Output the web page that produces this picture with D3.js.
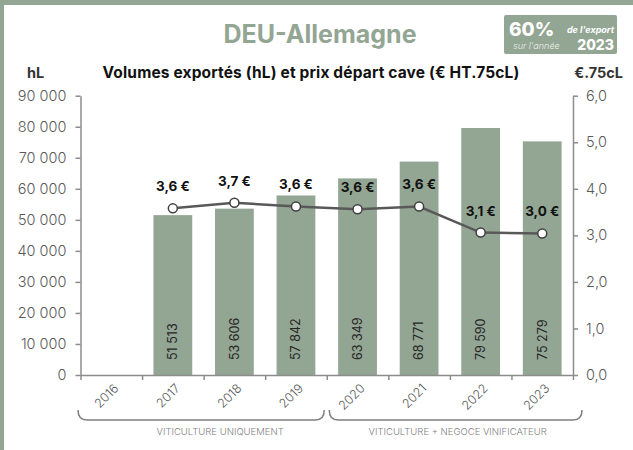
<!DOCTYPE html>
<html>
<head>
<meta charset="utf-8">
<script src="https://cdn.jsdelivr.net/npm/d3@7"></script>
<style>
  body { margin: 0; background: #fff; }
  svg text { font-family: Inter, "Noto Sans", sans-serif; }
</style>
</head>
<body>
<div id="chart"></div>
<script>
/* data */
const years = ["2016", "2017", "2018", "2019", "2020", "2021", "2022", "2023"];
const volumes = [null, 51513, 53606, 57842, 63349, 68771, 79590, 75279];
const prices = [null, 3.58, 3.70, 3.62, 3.56, 3.62, 3.06, 3.04];
const volTicks = [0, 10000, 20000, 30000, 40000, 50000, 60000, 70000, 80000, 90000];
const priceTicks = [0, 1, 2, 3, 4, 5, 6];
const groups = [
  {label: "VITICULTURE UNIQUEMENT", from: 0, to: 4},
  {label: "VITICULTURE + NEGOCE VINIFICATEUR", from: 4, to: 8}
];

/* dimensions */
let width = 633;
let height = 450;
let margin = {top: 95.7, bottom: 75, left: 80.5, right: 60};
let green = "#93a593";

const fr = d3.formatLocale({decimal: ",", thousands: " ", grouping: [3], currency: ["", "€"]});
const fmtVol = fr.format(",.0f");
const fmtPrice = fr.format(".1f");

let svg = d3.select("#chart").append("svg")
  .attr("width", width)
  .attr("height", height);

// frame bands
svg.append("rect").attr("x", 0).attr("y", 0).attr("width", width).attr("height", 5).attr("fill", green);
svg.append("rect").attr("x", 0).attr("y", 0).attr("width", 4).attr("height", height).attr("fill", green);

let x0 = margin.left, x1 = width - margin.right;
let yBottom = height - margin.bottom;

let xScale = d3.scaleBand()
  .domain(years)
  .range([x0, x1])
  .paddingInner(0.37)
  .paddingOuter(0.185);

let xPos = d3.scaleLinear().domain([0, years.length]).range([x0, x1]);

let yVol = d3.scaleLinear().domain([0, 90000]).range([yBottom, margin.top]);
let yPrice = d3.scaleLinear().domain([0, 6]).range([yBottom, margin.top]);

// titles
svg.append("text")
  .attr("x", 320).attr("y", 43)
  .attr("text-anchor", "middle")
  .attr("font-size", 25).attr("font-weight", 700)
  .attr("fill", green)
  .text("DEU-Allemagne");

let badge = svg.append("g");
badge.append("rect").attr("x", 504).attr("y", 15).attr("width", 113).attr("height", 39).attr("rx", 2).attr("fill", green);
badge.append("text").attr("x", 509).attr("y", 36).attr("font-size", 19).attr("font-weight", 800).attr("fill", "#fff").text("60%");
badge.append("text").attr("x", 614).attr("y", 32.5).attr("text-anchor", "end").attr("font-size", 9).attr("font-weight", 700).attr("font-style", "italic").attr("fill", "#fff").text("de l'export");
badge.append("text").attr("x", 513).attr("y", 48.5).attr("font-size", 9).attr("font-weight", 300).attr("font-style", "italic").attr("fill", "#eef2ee").text("sur l'année");
badge.append("text").attr("x", 614).attr("y", 50).attr("text-anchor", "end").attr("font-size", 14).attr("font-weight", 800).attr("fill", "#fff").text("2023");

svg.append("text")
  .attr("x", 311).attr("y", 78)
  .attr("text-anchor", "middle")
  .attr("font-size", 15.5).attr("font-weight", 700)
  .attr("letter-spacing", 0.15)
  .attr("fill", "#111")
  .text("Volumes exportés (hL) et prix départ cave (€ HT.75cL)");

svg.append("text").attr("x", 27).attr("y", 78).attr("font-size", 14.5).attr("font-weight", 700).attr("fill", "#333").text("hL");
svg.append("text").attr("x", 623).attr("y", 78).attr("text-anchor", "end").attr("font-size", 14.5).attr("font-weight", 700).attr("fill", "#333").text("€.75cL");

// bars
let barData = years.map((y, i) => ({year: y, vol: volumes[i], price: prices[i]}));

svg.append("g").selectAll("rect")
  .data(barData.filter(d => d.vol != null))
  .enter()
  .append("rect")
    .attr("x", d => xScale(d.year))
    .attr("y", d => yVol(d.vol))
    .attr("width", xScale.bandwidth())
    .attr("height", d => yBottom - yVol(d.vol))
    .attr("fill", green);

svg.append("g").selectAll("text")
  .data(barData.filter(d => d.vol != null))
  .enter()
  .append("text")
    .attr("transform", d => `translate(${xScale(d.year) + xScale.bandwidth() / 2}, ${yBottom - 15}) rotate(-90)`)
    .attr("dy", "0.35em")
    .attr("font-size", 12.5)
    .attr("fill", "#262626")
    .text(d => fmtVol(d.vol));

// axes
let axisColor = "#8c8c8c";
function styleAxis(g) {
  g.select(".domain").attr("stroke", axisColor).attr("stroke-width", 1.5);
  g.selectAll(".tick line").attr("stroke", axisColor).attr("stroke-width", 1.5);
  g.selectAll(".tick text").attr("fill", "#595959").attr("font-size", 14.5).attr("font-weight", 300)
    .attr("font-family", "Inter, 'Noto Sans', sans-serif");
}

svg.append("g")
  .attr("transform", `translate(${x0}, 0)`)
  .call(d3.axisLeft(yVol).tickValues(volTicks).tickFormat(fmtVol).tickSize(5).tickSizeOuter(0).tickPadding(9))
  .call(styleAxis);

svg.append("g")
  .attr("transform", `translate(${x1}, 0)`)
  .call(d3.axisRight(yPrice).tickValues(priceTicks).tickFormat(fmtPrice).tickSize(5).tickSizeOuter(0).tickPadding(8))
  .call(styleAxis);

svg.append("g")
  .attr("transform", `translate(0, ${yBottom})`)
  .call(d3.axisBottom(xPos).tickValues(d3.range(years.length + 1)).tickFormat("").tickSize(5).tickSizeOuter(0))
  .call(styleAxis);

svg.append("g").selectAll("text")
  .data(years)
  .enter()
  .append("text")
    .attr("transform", d => `translate(${xScale(d) + xScale.bandwidth() / 2 + 5}, ${yBottom + 11}) rotate(-45)`)
    .attr("text-anchor", "end")
    .attr("dy", "0.35em")
    .attr("font-size", 12.5)
    .attr("font-weight", 300)
    .attr("fill", "#595959")
    .text(d => d);

// price line
let line = d3.line()
  .x(d => xScale(d.year) + xScale.bandwidth() / 2)
  .y(d => yPrice(d.price));

let priceData = barData.filter(d => d.price != null);

svg.append("path")
  .datum(priceData)
  .attr("d", line)
  .attr("fill", "none")
  .attr("stroke", "#595959")
  .attr("stroke-width", 2.5);

svg.append("g").selectAll("circle")
  .data(priceData)
  .enter()
  .append("circle")
    .attr("cx", d => xScale(d.year) + xScale.bandwidth() / 2)
    .attr("cy", d => yPrice(d.price))
    .attr("r", 4.5)
    .attr("fill", "#fff")
    .attr("stroke", "#404040")
    .attr("stroke-width", 1.5);

svg.append("g").selectAll("text")
  .data(priceData)
  .enter()
  .append("text")
    .attr("x", d => xScale(d.year) + xScale.bandwidth() / 2)
    .attr("y", d => yPrice(d.price) - 17)
    .attr("text-anchor", "middle")
    .attr("font-size", 13.5)
    .attr("font-weight", 700)
    .attr("fill", "#111")
    .text(d => fmtPrice(d.price) + " €");

// group braces
let braceY = yBottom + 45;
let braceR = 9;
let braceG = svg.append("g");
groups.forEach((g, i) => {
  let xs = xPos(g.from) + (i === 0 ? -2.5 : 2.5);
  let xe = xPos(g.to) + (i === 0 ? -2.5 : 9);
  braceG.append("path")
    .attr("d", `M${xs},${braceY - 10} Q${xs},${braceY} ${xs + braceR},${braceY} L${xe - braceR},${braceY} Q${xe},${braceY} ${xe},${braceY - 10}`)
    .attr("fill", "none")
    .attr("stroke", "#7f7f7f")
    .attr("stroke-width", 1.5);
  braceG.append("text")
    .attr("x", i === 0 ? (xs + xe) / 2 + 19 : (xs + xe) / 2 + 2)
    .attr("y", braceY + 15)
    .attr("text-anchor", "middle")
    .attr("font-size", 9.5)
    .attr("font-weight", 300)
    .attr("fill", "#7f7f7f")
    .text(g.label);
});
</script>
</body>
</html>
